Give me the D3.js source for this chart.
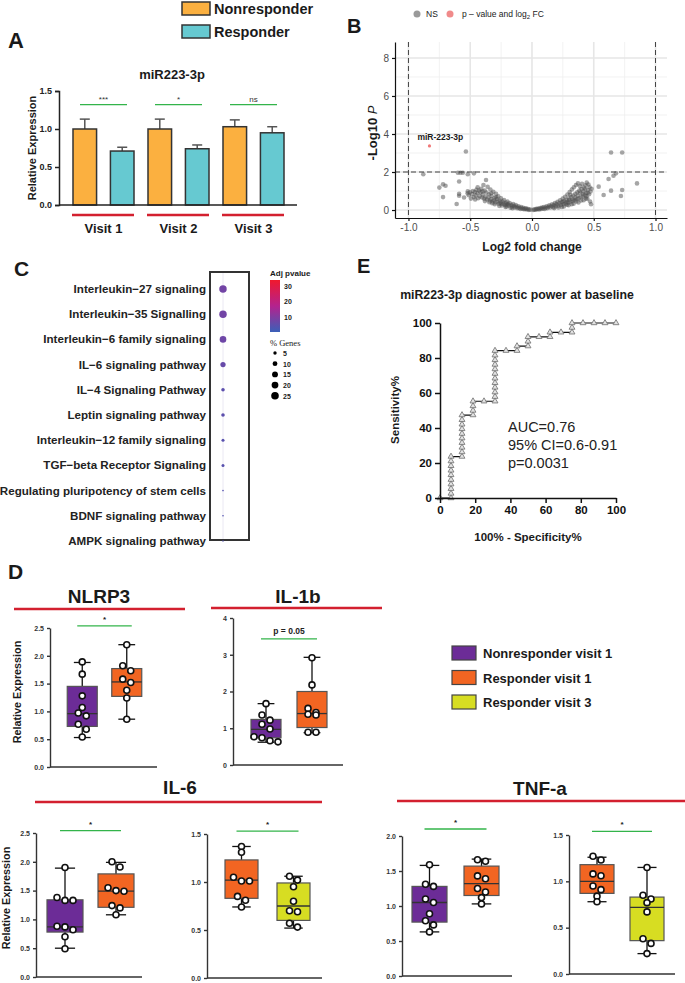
<!DOCTYPE html>
<meta charset="utf-8">
<style>
body { margin: 0; background: #fff; }
svg { font-family: Arial, "Liberation Sans", sans-serif; }
.narrow text { font-family: "Liberation Sans Narrow", "Arial Narrow", "Liberation Sans", sans-serif; font-stretch: condensed; }
</style>
<body>
<svg width="685" height="983"></svg>
<script src="https://d3js.org/d3.v7.min.js"></script>
<script>

// ---------- panel A data ----------
var visits = ["Visit 1", "Visit 2", "Visit 3"];
var groupsA = ["Nonresponder", "Responder"];
var meanNR = [1.0, 1.0, 1.03];
var semNR = [0.13, 0.13, 0.09];
var meanR = [0.71, 0.74, 0.95];
var semR = [0.05, 0.05, 0.08];
var sigA = ["***", "*", "ns"];

// ---------- panel B data (log2 FC, -log10 p) ----------
var volcanoNS = [
  [-0.012,0.02],[-0.025,0.01],[-0.031,0.05],[-0.043,0.03],[-0.048,0.09],[-0.057,0.06],[-0.066,0.04],[-0.071,0.12],[-0.079,0.08],[-0.088,0.15],
  [-0.093,0.06],[-0.104,0.11],[-0.109,0.2],[-0.118,0.09],[-0.123,0.17],[-0.131,0.26],[-0.139,0.13],[-0.146,0.21],[-0.152,0.31],[-0.161,0.18],
  [-0.167,0.27],[-0.174,0.12],[-0.181,0.36],[-0.186,0.23],[-0.193,0.3],[-0.199,0.44],[-0.206,0.19],[-0.212,0.38],[-0.219,0.27],[-0.226,0.52],
  [-0.231,0.33],[-0.238,0.45],[-0.244,0.24],[-0.251,0.61],[-0.256,0.39],[-0.262,0.5],[-0.268,0.33],[-0.273,0.72],[-0.279,0.44],[-0.284,0.58],
  [-0.291,0.85],[-0.296,0.4],[-0.302,0.63],[-0.308,0.51],[-0.313,0.96],[-0.319,0.45],[-0.326,0.74],[-0.331,0.58],[-0.337,1.08],[-0.342,0.5],
  [-0.348,0.83],[-0.353,0.66],[-0.359,1.22],[-0.364,0.55],[-0.369,0.92],[-0.372,1.58],[-0.377,0.7],[-0.383,1.02],[-0.388,0.6],[-0.393,1.31],
  [-0.399,0.82],[-0.404,0.66],[-0.411,1.12],[-0.417,0.93],[-0.423,0.72],[-0.428,1.03],[-0.436,0.62],[-0.442,0.88],[-0.449,1.06],[-0.455,0.77],
  [-0.463,0.94],[-0.471,0.68],[-0.478,1.0],[-0.486,0.84],[-0.494,0.6],[-0.503,0.93],[-0.512,0.78],[-0.521,0.88],[-0.158,0.09],[-0.214,0.16],
  [-0.265,0.22],[-0.322,0.36],[-0.381,0.47],[-0.205,0.29],[-0.248,0.33],[-0.301,0.3],[-0.345,0.41],[-0.29,0.68],[-0.33,0.88],[-0.4,0.98],
  [-0.44,1.2],[-0.46,0.55],
  [-0.88,1.88],[-0.6,1.96],[-0.58,1.96],[-0.56,1.96],[-0.52,1.88],[-0.47,1.93],[-0.59,1.5],[-0.75,1.18],[-0.72,1.35],[-0.7,1.28],
  [-0.72,0.68],[-0.61,0.32],[-0.59,0.85],[-0.59,0.75],[-0.55,0.66],[-0.52,0.98],[-0.535,3.08],
  [0.011,0.01],[0.019,0.03],[0.028,0.02],[0.036,0.06],[0.044,0.04],[0.052,0.08],[0.059,0.03],[0.067,0.1],[0.074,0.06],[0.082,0.13],
  [0.089,0.08],[0.097,0.16],[0.103,0.05],[0.111,0.12],[0.118,0.2],[0.126,0.1],[0.133,0.17],[0.141,0.25],[0.148,0.13],[0.156,0.21],
  [0.163,0.3],[0.171,0.15],[0.178,0.26],[0.186,0.36],[0.192,0.19],[0.199,0.31],[0.207,0.43],[0.213,0.22],[0.221,0.35],[0.228,0.51],
  [0.234,0.27],[0.241,0.4],[0.249,0.6],[0.255,0.3],[0.262,0.47],[0.268,0.7],[0.274,0.34],[0.281,0.54],[0.287,0.82],[0.293,0.38],
  [0.299,0.6],[0.305,0.95],[0.311,0.43],[0.317,0.68],[0.323,1.08],[0.328,0.47],[0.334,0.76],[0.339,1.2],[0.345,0.52],[0.351,0.85],
  [0.356,1.32],[0.362,0.57],[0.367,0.93],[0.372,1.4],[0.378,0.62],[0.383,1.02],[0.389,1.25],[0.394,0.67],[0.4,1.1],[0.405,1.38],
  [0.411,0.72],[0.416,0.98],[0.422,1.18],[0.427,0.77],[0.433,1.3],[0.438,0.88],[0.443,1.44],[0.448,0.6],[0.453,1.05],[0.457,1.34],
  [0.462,0.83],[0.466,1.2],[0.47,0.45],[0.474,0.97],[0.478,0.3],[0.482,1.12],[0.214,0.13],[0.258,0.19],[0.296,0.25],[0.337,0.33],
  [0.376,0.4],[0.418,0.52],[0.242,0.16],[0.283,0.28],[0.321,0.3],[0.359,0.45],[0.398,0.5],[0.437,0.6],[0.31,0.8],[0.35,0.65],
  [0.39,0.9],[0.43,1.1],[0.28,0.42],[0.33,0.55],[0.37,0.75],[0.41,0.85],[0.45,0.9],[0.18,0.1],[0.25,0.44],[0.3,0.52],[0.44,0.72],
  [0.54,1.23],[0.58,0.79],[0.62,1.63],[0.66,1.8],[0.68,1.93],[0.64,1.02],[0.73,1.05],[0.72,0.74],[0.85,1.4],[0.64,3.03],[0.73,3.03]
];
var volcanoHit = { name: "miR-223-3p", fc: -0.83, p: 3.37 };

// ---------- panel C data ----------
var pathways = ["Interleukin\u221227 signaling", "Interleukin\u221235 Signalling", "Interleukin\u22126 family signaling",
  "IL\u22126 signaling pathway", "IL\u22124 Signaling Pathway", "Leptin signaling pathway",
  "Interleukin\u221212 family signaling", "TGF\u2212beta Receptor Signaling", "Regulating pluripotency of stem cells",
  "BDNF signaling pathway", "AMPK signaling pathway"];
var adjP = [8, 8, 7.5, 6.5, 5, 5, 4.5, 4.5, 4, 4, 4];
var pctGenes = [24, 24, 19, 12, 5.5, 5.5, 4, 4, 1.2, 1.1, 0.9];
var adjPTicks = [10, 20, 30];
var genesTicks = [5, 10, 15, 20, 25];

// ---------- panel D data ----------
var dGroups = ["Nonresponder visit 1", "Responder visit 1", "Responder visit 3"];
var nlrp3Stats = [[0.53, 0.73, 0.96, 1.45, 1.88], [0.86, 1.27, 1.53, 1.77, 2.2]];
var nlrp3Pts = [[1.89, 1.67, 1.28, 1.07, 0.97, 0.92, 0.77, 0.68, 0.54], [2.2, 1.82, 1.73, 1.58, 1.52, 1.38, 1.24, 0.86]];
var il1bStats = [[0.62, 0.74, 0.97, 1.24, 1.67], [0.88, 1.02, 1.4, 2.0, 2.93]];
var il1bPts = [[1.67, 1.36, 1.22, 1.11, 0.98, 0.77, 0.74, 0.66, 0.63], [2.92, 2.18, 1.54, 1.43, 1.38, 1.36, 0.89, 0.89]];
var il6aStats = [[0.5, 0.78, 0.87, 1.34, 1.89], [1.08, 1.21, 1.49, 1.79, 1.99]];
var il6aPts = [[1.9, 1.38, 1.33, 1.33, 0.88, 0.87, 0.82, 0.7, 0.49], [2.0, 1.91, 1.55, 1.5, 1.49, 1.24, 1.2, 1.08]];
var il6bStats = [[0.74, 0.83, 1.02, 1.23, 1.37], [0.52, 0.6, 0.75, 0.99, 1.06]];
var il6bPts = [[1.37, 1.31, 1.05, 1.01, 1.01, 0.85, 0.81, 0.74], [1.06, 1.02, 0.95, 0.8, 0.7, 0.69, 0.57, 0.53]];
var tnfaStats = [[0.63, 0.77, 1.05, 1.28, 1.58], [1.03, 1.15, 1.32, 1.57, 1.67]];
var tnfaPts = [[1.59, 1.31, 1.28, 1.1, 1.05, 0.89, 0.79, 0.73, 0.63], [1.66, 1.64, 1.43, 1.39, 1.25, 1.2, 1.12, 1.03]];
var tnfbStats = [[0.78, 0.87, 1.0, 1.18, 1.26], [0.22, 0.36, 0.72, 0.83, 1.15]];
var tnfbPts = [[1.27, 1.23, 1.08, 1.06, 0.95, 0.91, 0.84, 0.78], [1.15, 0.85, 0.81, 0.77, 0.67, 0.38, 0.33, 0.22]];

// ---------- panel E data ----------
var rocFpr = [0, 6.25, 6.25, 6.25, 6.25, 6.25, 6.25, 6.25, 6.25, 6.25, 6.25,
  12.5, 12.5, 12.5, 12.5, 12.5, 12.5, 12.5, 12.5, 12.5, 12.5,
  18.75, 18.75, 18.75, 18.75, 25,
  31.25, 31.25, 31.25, 31.25, 31.25, 31.25, 31.25, 31.25, 31.25, 31.25, 31.25, 31.25,
  37.5, 43.75, 43.75, 50, 50, 50, 56.25, 62.5, 62.5, 68.75, 75, 75, 75, 81.25, 87.5, 93.75, 100];
var rocSens = [0, 0, 2.6, 5.3, 7.9, 10.5, 13.2, 15.8, 18.4, 21.1, 23.7,
  23.7, 26.3, 28.9, 31.6, 34.2, 36.8, 39.5, 42.1, 44.7, 47.4,
  47.4, 50, 52.6, 55.3, 55.3,
  55.3, 57.9, 60.5, 63.2, 65.8, 68.4, 71.1, 73.7, 76.3, 78.9, 81.6, 84.2,
  84.2, 84.2, 86.8, 86.8, 89.5, 92.1, 92.1, 92.1, 94.7, 94.7, 94.7, 97.4, 100, 100, 100, 100, 100];
var rocStats = ["AUC=0.76", "95% CI=0.6-0.91", "p=0.0031"];

var svg = d3.select("svg");
var RED = "#d3202f", GREEN = "#33b44a";
var dColors = d3.scaleOrdinal().domain(dGroups).range(["#6c2c97", "#f26522", "#d7dd22"]);

function label(g, x, y, s, size, weight, anchor) {
  return g.append("text").attr("x", x).attr("y", y)
    .attr("font-size", size).attr("font-weight", weight || "bold")
    .attr("text-anchor", anchor || "start").attr("fill", "#1a1a1a").text(s);
}
function vlabel(g, x, y, s, size) {
  return g.append("text").attr("transform", "translate(" + x + "," + y + ") rotate(-90)")
    .attr("font-size", size).attr("font-weight", "bold").attr("text-anchor", "middle")
    .attr("fill", "#1a1a1a").text(s);
}

// panel letters
label(svg, 8, 48, "A", 22);
label(svg, 347, 33, "B", 20);
label(svg, 14, 276, "C", 21);
label(svg, 8, 579, "D", 21);
label(svg, 357, 273, "E", 20);

// ================= A =================
var gA = svg.append("g");
var colA = d3.scaleOrdinal().domain(groupsA).range(["#fbb040", "#66c9d1"]);
var ax0 = d3.scaleBand().domain(visits).range([66, 291]);
var ax1 = d3.scaleBand().domain(groupsA).range([7, 68]).paddingInner(0.37);
var ay = d3.scaleLinear().domain([0, 1.5]).range([205, 91]);

groupsA.forEach(function(g, k) {
  gA.append("rect").attr("x", 182).attr("y", 2 + k * 23).attr("width", 28).attr("height", 13)
    .attr("fill", colA(g)).attr("stroke", "#333").attr("stroke-width", 1.5);
  label(gA, 214, 14 + k * 23, g, 14.5);
});
label(gA, 172, 79, "miR223-3p", 13, "bold", "middle");

var rowsA = visits.map(function(v, i) {
  return { visit: v, bars: [{ g: groupsA[0], m: meanNR[i], e: semNR[i] }, { g: groupsA[1], m: meanR[i], e: semR[i] }] };
});
var vg = gA.selectAll(".visit").data(rowsA).enter().append("g")
  .attr("transform", function(d) { return "translate(" + ax0(d.visit) + ",0)"; });
var bar = vg.selectAll(".bar").data(function(d) { return d.bars; }).enter().append("g");
bar.append("line")
  .attr("x1", function(d) { return ax1(d.g) + ax1.bandwidth() / 2; })
  .attr("x2", function(d) { return ax1(d.g) + ax1.bandwidth() / 2; })
  .attr("y1", function(d) { return ay(d.m); }).attr("y2", function(d) { return ay(d.m + d.e); })
  .attr("stroke", "#555").attr("stroke-width", 1.5);
bar.append("line")
  .attr("x1", function(d) { return ax1(d.g) + ax1.bandwidth() / 2 - 5; })
  .attr("x2", function(d) { return ax1(d.g) + ax1.bandwidth() / 2 + 5; })
  .attr("y1", function(d) { return ay(d.m + d.e); }).attr("y2", function(d) { return ay(d.m + d.e); })
  .attr("stroke", "#555").attr("stroke-width", 1.5);
bar.append("rect")
  .attr("x", function(d) { return ax1(d.g); }).attr("width", ax1.bandwidth())
  .attr("y", function(d) { return ay(d.m); }).attr("height", function(d) { return ay(0) - ay(d.m); })
  .attr("fill", function(d) { return colA(d.g); }).attr("stroke", "#333").attr("stroke-width", 1.5);

vg.append("line").attr("x1", 14).attr("x2", 61).attr("y1", ay(1.32)).attr("y2", ay(1.32))
  .attr("stroke", GREEN).attr("stroke-width", 1.3);
vg.append("text").attr("x", 37.5).attr("y", ay(1.32) - 3).attr("text-anchor", "middle")
  .attr("font-size", 8).attr("fill", "#333").text(function(d, i) { return sigA[i]; });
vg.append("line").attr("x1", 6).attr("x2", 68).attr("y1", 215).attr("y2", 215)
  .attr("stroke", RED).attr("stroke-width", 2.5);
vg.append("text").attr("x", 37.5).attr("y", 233).attr("text-anchor", "middle")
  .attr("font-size", 13).attr("font-weight", "bold").attr("fill", "#1a1a1a").text(function(d) { return d.visit; });

var ayAxis = gA.append("g").attr("transform", "translate(59,0)")
  .call(d3.axisLeft(ay).tickValues([0, 0.5, 1, 1.5]).tickFormat(d3.format(".1f")).tickSize(4));
ayAxis.selectAll("text").attr("font-size", 9).attr("font-weight", "bold").attr("fill", "#222");
ayAxis.selectAll("line,path").attr("stroke", "#222").attr("stroke-width", 1.5);
gA.append("line").attr("x1", 59).attr("x2", 297).attr("y1", 205).attr("y2", 205).attr("stroke", "#222").attr("stroke-width", 1.5);
vlabel(gA, 36, 148, "Relative Expression", 11);

// ================= B =================
var gB = svg.append("g");
var vx = d3.scaleLinear().domain([-1.109, 1.093]).range([395, 667]);
var vy = d3.scaleLinear().domain([-0.42, 8.84]).range([218, 42]);
gB.append("circle").attr("cx", 417).attr("cy", 14).attr("r", 3.5).attr("fill", "#9a9a9a");
label(gB, 426, 17, "NS", 8.5, "normal");
gB.append("circle").attr("cx", 450).attr("cy", 14).attr("r", 3.5).attr("fill", "#f08a8a");
var lt = label(gB, 462, 17, "p \u2013 value and log", 8.5, "normal");
lt.append("tspan").attr("font-size", 6).attr("dy", 2).text("2");
lt.append("tspan").attr("dy", -2).text(" FC");

[-0.75, -0.25, 0.25, 0.75].forEach(function(v) {
  gB.append("line").attr("x1", vx(v)).attr("x2", vx(v)).attr("y1", 42).attr("y2", 218).attr("stroke", "#efefef").attr("stroke-width", 0.8);
});
[1, 3, 5, 7].forEach(function(v) {
  gB.append("line").attr("x1", 395).attr("x2", 667).attr("y1", vy(v)).attr("y2", vy(v)).attr("stroke", "#efefef").attr("stroke-width", 0.8);
});
[-1, -0.5, 0, 0.5, 1].forEach(function(v) {
  gB.append("line").attr("x1", vx(v)).attr("x2", vx(v)).attr("y1", 42).attr("y2", 218).attr("stroke", "#e6e6e6").attr("stroke-width", 1.6);
});
[0, 2, 4, 6, 8].forEach(function(v) {
  gB.append("line").attr("x1", 395).attr("x2", 667).attr("y1", vy(v)).attr("y2", vy(v)).attr("stroke", "#e6e6e6").attr("stroke-width", 1.6);
});
gB.selectAll(".pt").data(volcanoNS).enter().append("circle")
  .attr("cx", function(d) { return vx(d[0]); }).attr("cy", function(d) { return vy(d[1]); })
  .attr("r", 2.3).attr("fill", "#4d4d4d").attr("fill-opacity", 0.5);
gB.append("circle").attr("cx", vx(volcanoHit.fc)).attr("cy", vy(volcanoHit.p)).attr("r", 1.6).attr("fill", "#f07878");
label(gB, vx(volcanoHit.fc) - 12, vy(volcanoHit.p) - 6, volcanoHit.name, 8.5);
[-1, 1].forEach(function(v) {
  gB.append("line").attr("x1", vx(v)).attr("x2", vx(v)).attr("y1", 42).attr("y2", 218)
    .attr("stroke", "#444").attr("stroke-dasharray", "5,3").attr("stroke-width", 1);
});
gB.append("line").attr("x1", 395).attr("x2", 667).attr("y1", vy(2)).attr("y2", vy(2))
  .attr("stroke", "#444").attr("stroke-dasharray", "5,3").attr("stroke-width", 1);
var bxAxis = gB.append("g").attr("transform", "translate(0,218)")
  .call(d3.axisBottom(vx).tickValues([-1, -0.5, 0, 0.5, 1]).tickFormat(function(d) { return d.toFixed(1); }).tickSize(3).tickSizeOuter(0));
var byAxis = gB.append("g").attr("transform", "translate(395,0)")
  .call(d3.axisLeft(vy).tickValues([0, 2, 4, 6, 8]).tickSize(3).tickSizeOuter(0));
[bxAxis, byAxis].forEach(function(a) {
  a.selectAll("text").attr("font-size", 10).attr("fill", "#4d4d4d");
  a.selectAll("line,path").attr("stroke", "#111").attr("stroke-width", 1.2);
});
label(gB, 532, 251, "Log2 fold change", 12, "bold", "middle");
var yt = vlabel(gB, 377, 133, "-Log10 ", 13);
yt.append("tspan").attr("font-style", "italic").attr("font-weight", "normal").text("P");

// ================= C =================
var gC = svg.append("g");
var cy = d3.scalePoint().domain(pathways).range([289, 541]);
var cColor = d3.scaleLinear().domain([0.5, 17, 34]).range(["#3b60b8", "#b3238f", "#f0182d"]);
var cSize = d3.scaleSqrt().domain([0, 25]).range([0, 3.8]);
gC.append("line").attr("x1", 223).attr("x2", 223).attr("y1", 273).attr("y2", 540).attr("stroke", "#e4e2f0").attr("stroke-width", 0.8);
gC.append("rect").attr("x", 210).attr("y", 272).attr("width", 39).attr("height", 268)
  .attr("fill", "none").attr("stroke", "#333").attr("stroke-width", 2);
pathways.forEach(function(p, i) {
  label(gC, 206, cy(p) + 4, p, 11.6, "bold", "end").attr("fill", "#222");
  gC.append("circle").attr("cx", 223).attr("cy", cy(p)).attr("r", cSize(pctGenes[i])).attr("fill", cColor(adjP[i]));
});
label(gC, 270, 276, "Adj pvalue", 8);
var grad = svg.append("defs").append("linearGradient").attr("id", "adjg").attr("x1", 0).attr("x2", 0).attr("y1", 1).attr("y2", 0);
[0.5, 17, 34].forEach(function(v) {
  grad.append("stop").attr("offset", (v - 0.5) / 33.5).attr("stop-color", cColor(v));
});
var gy = d3.scaleLinear().domain([0.5, 34]).range([332, 280]);
gC.append("rect").attr("x", 270).attr("y", 280).attr("width", 10).attr("height", 52).attr("fill", "url(#adjg)");
adjPTicks.forEach(function(t) {
  label(gC, 284, gy(t) + 2.5, t, 7);
});
label(gC, 270, 346, "% Genes", 8.5, "normal").attr("font-family", "'Liberation Serif', 'DejaVu Serif', serif");
genesTicks.forEach(function(t, i) {
  gC.append("circle").attr("cx", 275).attr("cy", 353 + i * 10.7).attr("r", cSize(t)).attr("fill", "#000");
  label(gC, 283, 356 + i * 10.7, t, 7);
});

// ================= E =================
var gE = svg.append("g");
var ex = d3.scaleLinear().domain([0, 100]).range([440, 616]);
var ey = d3.scaleLinear().domain([0, 100]).range([498, 323]);
label(gE, 517, 299, "miR223-3p diagnostic power at baseline", 12.3, "bold", "middle");
var rocPts = rocFpr.map(function(f, i) { return [f, rocSens[i]]; });
gE.append("path").datum(rocPts)
  .attr("d", d3.line().x(function(d) { return ex(d[0]); }).y(function(d) { return ey(d[1]); }))
  .attr("fill", "none").attr("stroke", "#111").attr("stroke-width", 1.2);
gE.selectAll(".tri").data(rocPts).enter().append("path")
  .attr("transform", function(d) { return "translate(" + ex(d[0]) + "," + ey(d[1]) + ")"; })
  .attr("d", d3.symbol(d3.symbolTriangle, 15))
  .attr("fill", "#e2e2e2").attr("stroke", "#7a7a7a").attr("stroke-width", 0.9);
var exAxis = gE.append("g").attr("transform", "translate(0,498)")
  .call(d3.axisBottom(ex).tickValues([0, 20, 40, 60, 80, 100]).tickSize(5).tickSizeOuter(0));
var eyAxis = gE.append("g").attr("transform", "translate(440,0)")
  .call(d3.axisLeft(ey).tickValues([0, 20, 40, 60, 80, 100]).tickSize(5).tickSizeOuter(0));
[exAxis, eyAxis].forEach(function(a) {
  a.selectAll("text").attr("font-size", 11.5).attr("font-weight", "bold").attr("fill", "#111");
  a.selectAll("line,path").attr("stroke", "#111").attr("stroke-width", 1.5);
});
label(gE, 528, 541, "100% - Specificity%", 11.5, "bold", "middle");
vlabel(gE, 399, 410, "Sensitivity%", 11.5);
rocStats.forEach(function(s, i) {
  label(gE, 508, 432 + i * 18, s, 14.5, "normal").attr("fill", "#222");
});

// ================= D =================
var gD = svg.append("g");
function sectionTitle(title, cx, ty, x1, x2, ly) {
  label(gD, cx, ty, title, 19, "bold", "middle");
  gD.append("line").attr("x1", x1).attr("x2", x2).attr("y1", ly).attr("y2", ly).attr("stroke", RED).attr("stroke-width", 2.5);
}
sectionTitle("NLRP3", 99, 603, 14, 185, 609);
sectionTitle("IL-1b", 298, 603, 211, 382, 608);
sectionTitle("IL-6", 180, 794, 35, 322, 802);
sectionTitle("TNF-a", 540, 795, 397, 685, 801);

function boxPanel(cfg) {
  var g = gD.append("g").attr("class", "narrow");
  var y = d3.scaleLinear().domain([0, cfg.max]).range([cfg.y0, cfg.yTop]);
  var x = d3.scalePoint().domain(cfg.groups).range(cfg.xr).padding(0.5);
  var yAxis = g.append("g").attr("transform", "translate(" + cfg.ax + ",0)")
    .call(d3.axisLeft(y).tickValues(cfg.ticks).tickFormat(d3.format(cfg.fmt)).tickSize(3).tickSizeOuter(0));
  yAxis.selectAll("text").attr("font-size", 7).attr("font-weight", "bold").attr("fill", "#333");
  yAxis.selectAll("line,path").attr("stroke", "#333").attr("stroke-width", 1.4);
  g.append("line").attr("x1", cfg.ax).attr("x2", cfg.xEnd).attr("y1", cfg.y0).attr("y2", cfg.y0)
    .attr("stroke", "#333").attr("stroke-width", 1.6);
  cfg.groups.forEach(function(grp, k) {
    var s = cfg.stats[k], cx = x(grp), w = cfg.bw;
    g.append("line").attr("x1", cx).attr("x2", cx).attr("y1", y(s[0])).attr("y2", y(s[4])).attr("stroke", "#111").attr("stroke-width", 1.3);
    [s[0], s[4]].forEach(function(v) {
      g.append("line").attr("x1", cx - w * 0.28).attr("x2", cx + w * 0.28).attr("y1", y(v)).attr("y2", y(v)).attr("stroke", "#111").attr("stroke-width", 1.3);
    });
    g.append("rect").attr("x", cx - w / 2).attr("width", w).attr("y", y(s[3])).attr("height", y(s[1]) - y(s[3]))
      .attr("fill", dColors(grp)).attr("stroke", "#555").attr("stroke-width", 1.2);
    g.append("line").attr("x1", cx - w / 2).attr("x2", cx + w / 2).attr("y1", y(s[2])).attr("y2", y(s[2])).attr("stroke", "#333").attr("stroke-width", 1.3);
    // arrange points that overlap vertically side by side
    var pts = cfg.pts[k].map(function(v) { return { v: v, py: y(v) }; }).sort(function(a, b) { return a.py - b.py; });
    var rows = [];
    pts.forEach(function(p) {
      var last = rows[rows.length - 1];
      if (last && p.py - last[0].py < 5.5) last.push(p); else rows.push([p]);
    });
    rows.forEach(function(r) {
      r.forEach(function(p, j) { p.px = cx + (j - (r.length - 1) / 2) * 8; });
    });
    g.selectAll(".p" + k).data(pts).enter().append("circle")
      .attr("cx", function(d) { return d.px; }).attr("cy", function(d) { return d.py; })
      .attr("r", 3).attr("fill", "#fff").attr("stroke", "#111").attr("stroke-width", 1.6);
  });
  var sy = y(cfg.sigAt);
  g.append("line").attr("x1", x(cfg.groups[0]) - 5).attr("x2", x(cfg.groups[1]) + 5).attr("y1", sy).attr("y2", sy)
    .attr("stroke", GREEN).attr("stroke-width", 1.3);
  g.append("text").attr("x", (x(cfg.groups[0]) + x(cfg.groups[1])) / 2).attr("y", sy - (cfg.sig === "*" ? 4 : 5))
    .attr("text-anchor", "middle").attr("font-size", cfg.sig === "*" ? 8 : 8.5).attr("font-weight", "bold")
    .attr("font-family", "Arial, 'Liberation Sans', sans-serif").attr("fill", "#222").text(cfg.sig);
}

boxPanel({ groups: [dGroups[0], dGroups[1]], stats: nlrp3Stats, pts: nlrp3Pts, max: 2.5, ticks: [0, 0.5, 1, 1.5, 2, 2.5], fmt: ".1f",
  ax: 50, xEnd: 157, y0: 767, yTop: 628, xr: [60, 149], bw: 30, sigAt: 2.54, sig: "*" });
boxPanel({ groups: [dGroups[0], dGroups[1]], stats: il1bStats, pts: il1bPts, max: 4, ticks: [0, 1, 2, 3, 4], fmt: "d",
  ax: 233, xEnd: 343, y0: 765, yTop: 618, xr: [243, 335], bw: 30, sigAt: 3.43, sig: "p = 0.05" });
boxPanel({ groups: [dGroups[0], dGroups[1]], stats: il6aStats, pts: il6aPts, max: 2.5, ticks: [0, 0.5, 1, 1.5, 2, 2.5], fmt: ".1f",
  ax: 36, xEnd: 142, y0: 977, yTop: 833, xr: [39.5, 141.5], bw: 36, sigAt: 2.54, sig: "*" });
boxPanel({ groups: [dGroups[1], dGroups[2]], stats: il6bStats, pts: il6bPts, max: 1.5, ticks: [0, 0.5, 1, 1.5], fmt: ".1f",
  ax: 207, xEnd: 322, y0: 978, yTop: 834, xr: [215.5, 319.5], bw: 33, sigAt: 1.53, sig: "*" });
boxPanel({ groups: [dGroups[0], dGroups[1]], stats: tnfaStats, pts: tnfaPts, max: 2.0, ticks: [0, 0.5, 1, 1.5, 2], fmt: ".1f",
  ax: 402, xEnd: 512, y0: 976, yTop: 836, xr: [403.5, 507.5], bw: 35, sigAt: 2.1, sig: "*" });
boxPanel({ groups: [dGroups[1], dGroups[2]], stats: tnfbStats, pts: tnfbPts, max: 1.5, ticks: [0, 0.5, 1, 1.5], fmt: ".1f",
  ax: 569, xEnd: 675, y0: 974, yTop: 835, xr: [572, 672], bw: 34, sigAt: 1.54, sig: "*" });

vlabel(gD, 21, 692, "Relative Expression", 10.8);
vlabel(gD, 10, 898, "Relative Expression", 10.8);

dGroups.forEach(function(grp, k) {
  gD.append("rect").attr("x", 452).attr("y", 646 + k * 24.5).attr("width", 24).attr("height", 14)
    .attr("fill", dColors(grp)).attr("stroke", "#444").attr("stroke-width", 1.2);
  label(gD, 483, 658 + k * 24.5, grp, 13);
});

</script>
</body>
